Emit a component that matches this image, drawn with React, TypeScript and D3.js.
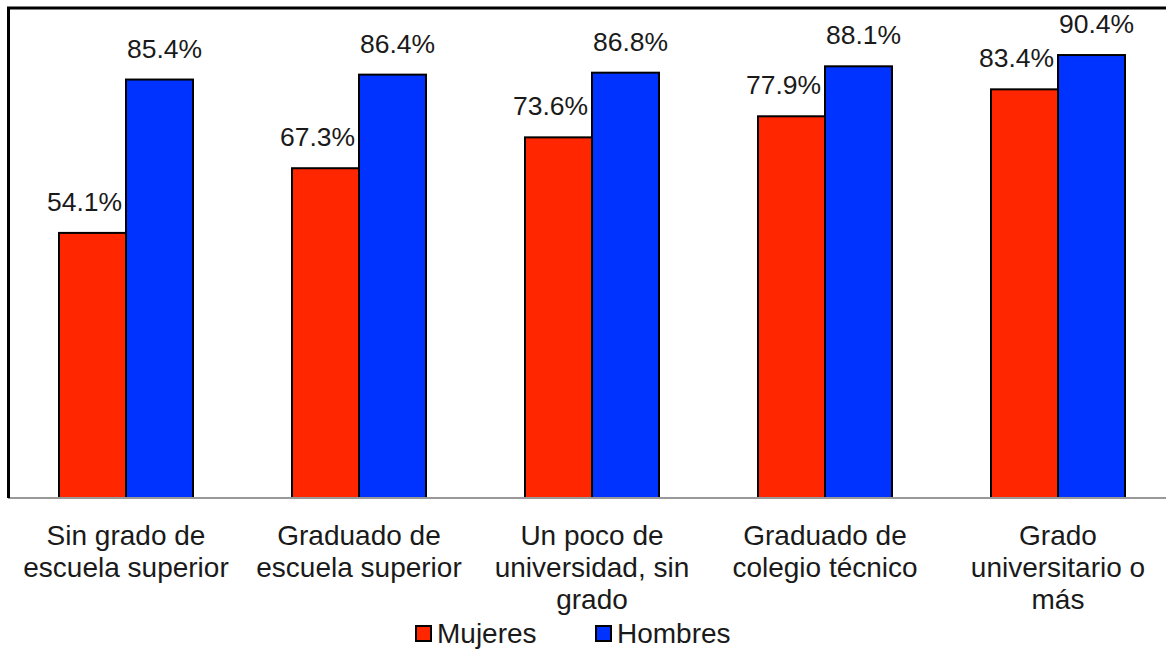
import React from "react";
import * as d3 from "d3";

const categories = [
  ["Sin grado de", "escuela superior"],
  ["Graduado de", "escuela superior"],
  ["Un poco de", "universidad, sin", "grado"],
  ["Graduado de", "colegio técnico"],
  ["Grado", "universitario o", "más"],
];
const seriesNames = ["Mujeres", "Hombres"];
const mujeres = [54.1, 67.3, 73.6, 77.9, 83.4];
const hombres = [85.4, 86.4, 86.8, 88.1, 90.4];
const colors = ["#ff2600", "#0033ff"];
const labelShift = [-8, 5];

const W = 1166;
const H = 654;
const FONT = "'Liberation Sans', Arial, sans-serif";

export default function App() {
  const keys = categories.map((c) => c.join(" "));
  const x0 = d3.scaleBand().domain(keys).range([9.5, 9.5 + 233 * 5]).padding(0);
  const x1 = d3
    .scaleBand()
    .domain(seriesNames)
    .range([0, x0.bandwidth()])
    .paddingInner(0)
    .paddingOuter(0.739);
  const y = d3.scaleLinear().domain([0, 100]).range([498, 8]);
  const values = [mujeres, hombres];
  const fmt = (v: number) => d3.format(".1f")(v) + "%";

  return (
    <svg
      width={W}
      height={H}
      style={{ position: "absolute", left: 0, top: 0, background: "#fff" }}
      fontFamily={FONT}
    >
      <rect x={0} y={0} width={W} height={H} fill="#fff" />
      {keys.map((k, i) => (
        <g key={k} transform={`translate(${x0(k)},0)`}>
          {seriesNames.map((s, j) => {
            const v = values[j][i];
            const bx = x1(s)!;
            return (
              <g key={s}>
                <rect
                  x={bx}
                  y={y(v)}
                  width={x1.bandwidth()}
                  height={y(0) - y(v)}
                  fill={colors[j]}
                  stroke="#000"
                  strokeWidth={2}
                />
                <text
                  x={bx + x1.bandwidth() / 2 + labelShift[j]}
                  y={y(v) - 22}
                  textAnchor="middle"
                  fontSize={26.5}
                  fill="#1a1a1a"
                >
                  {fmt(v)}
                </text>
              </g>
            );
          })}
          {categories[i].map((line, li) => (
            <text
              key={li}
              x={x0.bandwidth() / 2}
              y={545 + li * 32}
              textAnchor="middle"
              fontSize={28}
              fill="#1a1a1a"
            >
              {line}
            </text>
          ))}
        </g>
      ))}
      {/* axes / frame */}
      <line x1={8} x2={W} y1={498} y2={498} stroke="#999" strokeWidth={2} />
      <line x1={8.5} x2={8.5} y1={7} y2={498} stroke="#000" strokeWidth={3} />
      <line x1={7} x2={W} y1={8} y2={8} stroke="#000" strokeWidth={3} />
      {/* legend */}
      {seriesNames.map((s, j) => {
        const lx = [416, 596][j];
        return (
          <g key={s}>
            <rect
              x={lx}
              y={626}
              width={15}
              height={15}
              fill={colors[j]}
              stroke="#000"
              strokeWidth={2}
            />
            <text x={lx + 21} y={643} fontSize={28} fill="#1a1a1a">
              {s}
            </text>
          </g>
        );
      })}
    </svg>
  );
}
